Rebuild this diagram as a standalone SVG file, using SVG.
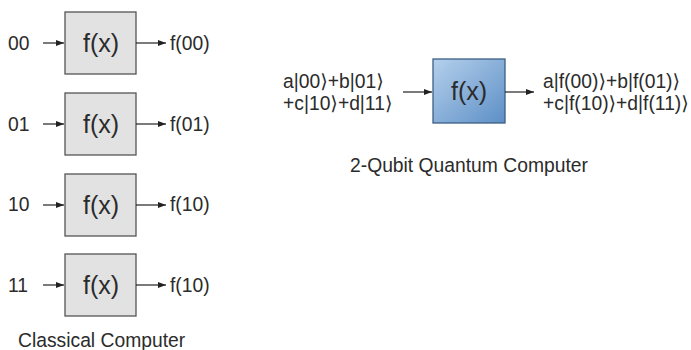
<svg xmlns="http://www.w3.org/2000/svg" width="691" height="350" viewBox="0 0 691 350">
<style>
text{font-family:"Liberation Sans",Arial,"DejaVu Sans",sans-serif;fill:#2b2b2b;font-size:19.3px}
.fx{font-size:25px;text-anchor:middle}
.cbox{fill:#e2e2e2;stroke:#555;stroke-width:1.3}
.qbox{fill:url(#qg);stroke:#3d5f85;stroke-width:1.3}
.conn line{stroke:#222;stroke-width:1.2;marker-end:url(#ah)}
</style>
<defs>
<marker id="ah" viewBox="0 0 8 6" refX="8" refY="3" markerWidth="8" markerHeight="6" markerUnits="userSpaceOnUse" orient="auto">
<path d="M0,0 L8,3 L0,6 Z" fill="#222"/>
</marker>
<linearGradient id="qg" x1="0" y1="0" x2="1" y2="1">
<stop offset="0" stop-color="#b5d0ec"/>
<stop offset="1" stop-color="#5d8fc6"/>
</linearGradient>
</defs>
<g id="c00"><text x="8" y="50">00</text><rect class="cbox" x="65" y="12" width="71" height="62"/><text class="fx" x="101" y="52">f(x)</text><text x="170" y="50">f(00)</text></g>
<g id="c01"><text x="8" y="131">01</text><rect class="cbox" x="65" y="93" width="71" height="62"/><text class="fx" x="101" y="133">f(x)</text><text x="170" y="131">f(01)</text></g>
<g id="c10"><text x="8" y="211">10</text><rect class="cbox" x="65" y="174" width="71" height="62"/><text class="fx" x="101" y="214">f(x)</text><text x="170" y="211">f(10)</text></g>
<g id="c11"><text x="8" y="292">11</text><rect class="cbox" x="65" y="254" width="71" height="62"/><text class="fx" x="101" y="294">f(x)</text><text x="170" y="292">f(10)</text></g>
<g id="q"><text x="283" y="88">a|00⟩+b|01⟩</text><text x="283" y="110">+c|10⟩+d|11⟩</text><rect class="qbox" x="433" y="59" width="72" height="64"/><text class="fx" x="469" y="100">f(x)</text><text x="543" y="88">a|f(00)⟩+b|f(01)⟩</text><text x="543" y="110">+c|f(10)⟩+d|f(11)⟩</text></g>
<g id="labels"><text x="18" y="347">Classical Computer</text><text x="350" y="172">2-Qubit Quantum Computer</text></g>
<g class="conn">
<line x1="43" y1="43" x2="64" y2="43"/><line x1="136" y1="43" x2="166" y2="43"/>
<line x1="43" y1="124" x2="64" y2="124"/><line x1="136" y1="124" x2="166" y2="124"/>
<line x1="43" y1="205" x2="64" y2="205"/><line x1="136" y1="205" x2="166" y2="205"/>
<line x1="43" y1="285" x2="64" y2="285"/><line x1="136" y1="285" x2="166" y2="285"/>
<line x1="403" y1="92" x2="432" y2="92"/><line x1="505" y1="92" x2="534" y2="92"/>
</g>
</svg>
